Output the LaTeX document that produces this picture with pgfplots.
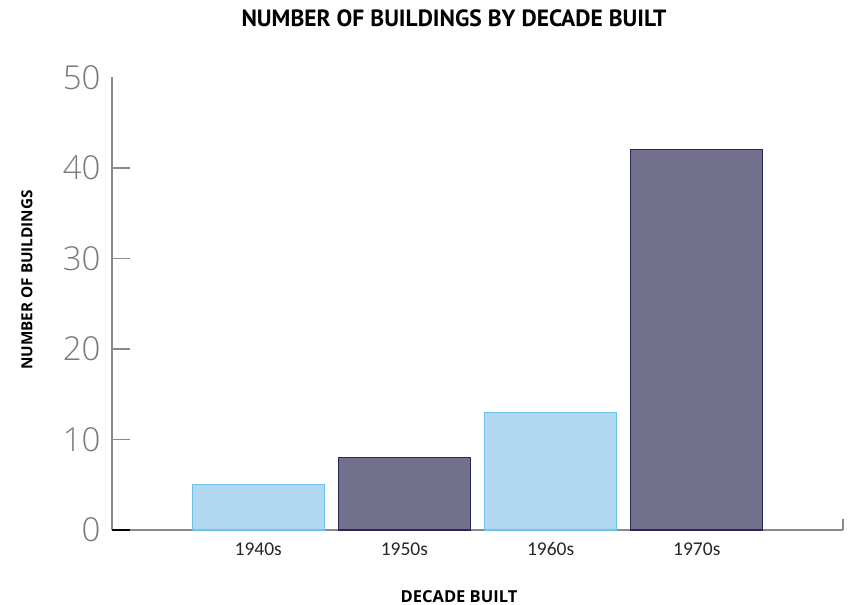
\documentclass[border=0pt]{standalone}
\usepackage{fontspec}
\setmainfont{PT Sans}
\newfontfamily\carlito{Carlito}
\newfontfamily\opensans{Open Sans}
\newfontfamily\ylight{Open Sans Light}
\usepackage{pgfplots}
\pgfplotsset{compat=1.18}
\definecolor{lightbar}{HTML}{B0D8F1}
\definecolor{lightedge}{HTML}{6EC1EC}
\definecolor{darkbar}{HTML}{73708E}
\definecolor{darkedge}{HTML}{262858}
\definecolor{axisgray}{HTML}{8A8A8A}
\definecolor{ticklab}{HTML}{7A7A7A}
\begin{document}
\begin{tikzpicture}
\path[use as bounding box] (-112pt,-75pt) rectangle (742pt,530pt);
\begin{axis}[
  at={(0,0)}, anchor=south west,
  scale only axis, width=731pt, height=452.5pt,
  xmin=-1, xmax=4, ymin=0, ymax=50,
  axis x line=bottom, axis y line=left,
  axis line style={axisgray, line width=1.2pt, -},
  xtick={0,1,2,3}, xticklabels={1940s,1950s,1960s,1970s},
  x tick style={draw=none},
  xticklabel style={font=\carlito\fontsize{19.5}{19.5}\selectfont, text=black!85, yshift=9pt},
  ytick={10,20,30,40}, extra y ticks={0,50},
  extra y tick style={major tick length=0pt},
  y tick style={axisgray, line width=1.2pt},
  major tick length=18pt, tick align=inside,
  yticklabel style={font=\ylight\fontsize{33}{33}\selectfont, text=ticklab, xshift=-8pt},
  /pgf/number format/assume math mode=true,
  ybar, bar width=132pt,
  clip=false,
]
\addplot[ybar, bar shift=0pt, fill=lightbar, draw=lightedge, line width=1.2pt] coordinates {(0,5) (2,13)};
\addplot[ybar, bar shift=0pt, fill=darkbar, draw=darkedge, line width=1.2pt] coordinates {(1,8) (3,42)};
\end{axis}
\draw[axisgray, line width=1.2pt] (731pt,0) -- (731pt,11pt);
\draw[black, line width=1.4pt] (0,0) -- (18pt,0);
\node[anchor=base, inner sep=0pt, font=\bfseries\fontsize{23.5}{23.5}\selectfont] at (342pt,503pt) {NUMBER OF BUILDINGS BY DECADE BUILT};
\node[anchor=base, inner sep=0pt, font=\opensans\bfseries\fontsize{16.5}{16.5}\selectfont] at (347pt,-72pt) {DECADE BUILT};
\node[rotate=90, inner sep=0pt, font=\opensans\bfseries\fontsize{15.3}{15.3}\selectfont] at (-85pt,250pt) {NUMBER OF BUILDINGS};
\end{tikzpicture}
\end{document}
